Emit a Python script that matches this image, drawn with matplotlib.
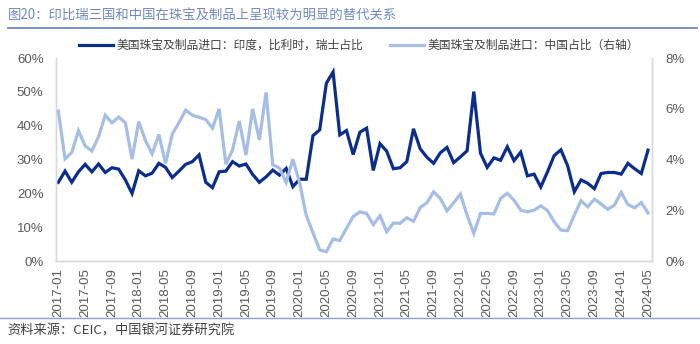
import numpy as np
import matplotlib
matplotlib.use("Agg")
from matplotlib import pyplot as plt
from matplotlib.lines import Line2D

plt.rcParams['font.family'] = ['Noto Sans CJK SC', 'DejaVu Sans']

# monthly, 2017-01 .. 2024-05
months = ["%d-%02d" % (2017 + k // 12, k % 12 + 1) for k in range(89)]

# share of US jewellery imports from India, Belgium, Switzerland (%)
share_ibs = [23.3, 26.6, 23.3, 26.4, 28.6, 26.4, 28.7, 26.2, 27.6, 27.2,
             24.0, 20.0, 26.7, 25.2, 26.0, 28.9, 27.7, 24.7, 26.6, 28.6,
             29.4, 31.4, 23.3, 21.7, 26.4, 26.6, 29.4, 28.1, 28.7, 25.6,
             23.3, 24.9, 26.9, 25.4, 27.4, 22.0, 24.2, 24.2, 37.1, 38.8,
             52.6, 55.9, 37.3, 38.6, 31.5, 38.1, 39.3, 26.8, 34.7, 32.5,
             27.3, 27.6, 29.4, 39.1, 33.2, 30.7, 28.9, 32.0, 33.6, 29.1,
             30.8, 32.6, 50.1, 31.9, 27.7, 30.5, 29.8, 33.8, 29.7, 32.2,
             25.2, 25.7, 21.9, 26.4, 31.2, 32.9, 28.2, 20.5, 24.0, 23.0,
             21.4, 25.9, 26.2, 26.2, 25.7, 28.9, 27.3, 25.9, 32.8]

# share of US jewellery imports from China (%), right axis
share_cn = [5.91, 4.03, 4.28, 5.14, 4.54, 4.34, 4.90, 5.75, 5.45, 5.68,
            5.45, 4.02, 5.50, 4.75, 4.23, 4.99, 3.85, 5.00, 5.46, 5.95,
            5.75, 5.67, 5.58, 5.24, 6.00, 3.82, 4.38, 5.52, 4.18, 6.00,
            4.78, 6.65, 3.80, 3.67, 3.10, 4.02, 3.10, 1.80, 1.12, 0.44,
            0.37, 0.87, 0.81, 1.29, 1.76, 1.94, 1.88, 1.44, 1.79, 1.16,
            1.50, 1.49, 1.71, 1.57, 2.11, 2.30, 2.73, 2.47, 1.98, 2.30,
            2.64, 1.81, 1.09, 1.88, 1.88, 1.86, 2.47, 2.67, 2.40, 2.01,
            1.94, 2.01, 2.18, 1.99, 1.55, 1.22, 1.20, 1.81, 2.38, 2.14,
            2.44, 2.25, 2.04, 2.21, 2.71, 2.23, 2.10, 2.31, 1.90]

label_ibs = "美国珠宝及制品进口：印度，比利时，瑞士占比"
label_cn = "美国珠宝及制品进口：中国占比（右轴）"
title = "图20：印比瑞三国和中国在珠宝及制品上呈现较为明显的替代关系"
source = "资料来源：CEIC，中国银河证券研究院"

dark = "#0B2D8C"
light = "#A6BDE6"
grey = "#595959"
spine_c = "#D9D9D9"

fig = plt.figure(figsize=(7, 3.44), dpi=100)
ax = fig.add_axes([0.08, 0.241, 0.851, 0.590])
ax2 = ax.twinx()

x = np.arange(len(months))
ax.plot(x, share_ibs, color=dark, lw=2.3, solid_joinstyle='miter', zorder=2)
ax2.plot(x, share_cn, color=light, lw=2.3, solid_joinstyle='miter', zorder=3)
ax.set_zorder(ax2.get_zorder() - 1)
ax.patch.set_visible(False)

ax.set_xlim(-0.35, 88.55)
ax.set_ylim(0, 60)
ax2.set_ylim(0, 8)
ax.set_yticks(np.arange(0, 61, 10))
ax.set_yticklabels(["%d%%" % v for v in range(0, 61, 10)])
ax2.set_yticks(np.arange(0, 9, 2))
ax2.set_yticklabels(["%d%%" % v for v in range(0, 9, 2)])
ax.set_xticks(x[::4])
ax.set_xticklabels(months[::4], rotation=90)

for a in (ax, ax2):
    a.tick_params(length=0, colors=grey, labelsize=9.5)
    for t in a.get_yticklabels() + a.get_xticklabels():
        t.set_family(['Liberation Sans', 'DejaVu Sans'])
    a.spines['top'].set_visible(False)
    for pos in ['left', 'right', 'bottom']:
        a.spines[pos].set_color(spine_c)
        a.spines[pos].set_linewidth(1.0)
ax.tick_params(axis='y', pad=9)
ax2.tick_params(axis='y', pad=10)
ax.tick_params(axis='x', pad=5)

handles = [Line2D([], [], color=dark, lw=2.3), Line2D([], [], color=light, lw=2.3)]
fig.legend(handles, [label_ibs, label_cn], loc='center', bbox_to_anchor=(0.513, 0.868),
           ncol=2, frameon=False, fontsize=8.5, handlelength=2.9, columnspacing=2.2,
           handletextpad=0.3, labelcolor='#404040')

# header / footer
fig.text(0.011, 0.955, title, color="#7088C2", fontsize=9.6, va='center', ha='left')
fig.add_artist(Line2D([0.011, 0.995], [0.918, 0.918], color="#7088C2", lw=1.3))
fig.add_artist(Line2D([0.0, 1.0], [0.076, 0.076], color="#8BA2D0", lw=1.0))
fig.text(0.011, 0.038, source, color="#404040", fontsize=9.5, va='center', ha='left',
         style='italic')

fig.savefig("out.png", dpi=100)
